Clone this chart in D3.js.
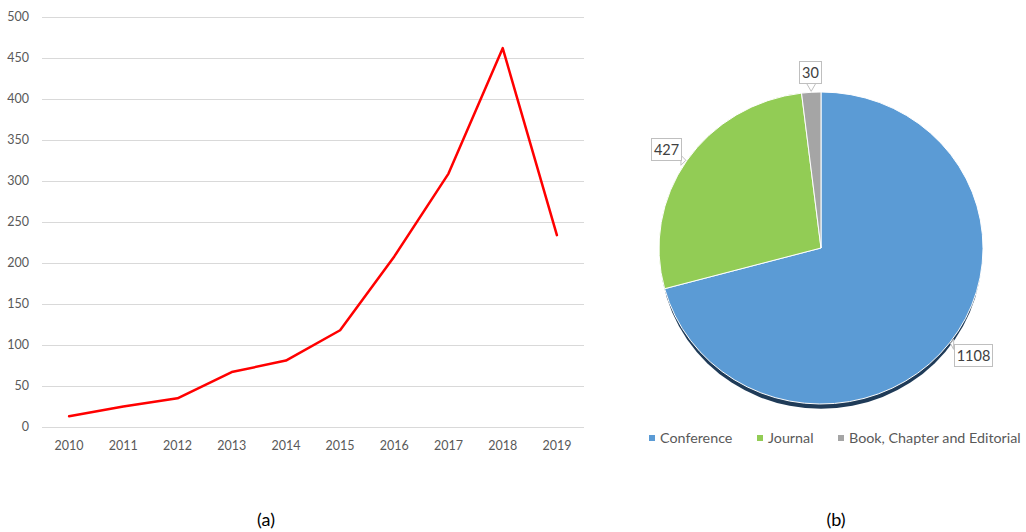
<!DOCTYPE html>
<html>
<head>
<meta charset="utf-8">
<script src="https://cdn.jsdelivr.net/npm/d3@7"></script>
<style>
  body { margin: 0; background: #fff; }
  svg { display: block; font-family: Lato, "Liberation Sans", sans-serif; }
</style>
</head>
<body>
<svg id="chart" width="1026" height="532"></svg>
<script>
// line chart (a): publications per year
var years = ["2010", "2011", "2012", "2013", "2014", "2015", "2016", "2017", "2018", "2019"];
var counts = [13, 25, 35, 67, 81, 118, 208, 309, 462, 234];
var yTicks = [0, 50, 100, 150, 200, 250, 300, 350, 400, 450, 500];

// pie chart (b): publication types
var types = ["Conference", "Journal", "Book, Chapter and Editorial"];
var typeCounts = [1108, 427, 30];
var typeColors = ["#5b9bd5", "#92cc55", "#a5a5a5"];

var svg = d3.select("#chart");

// ---- line chart ----
var x = d3.scaleBand().domain(years).range([42, 584]);
var y = d3.scaleLinear().domain([0, 500]).range([427, 17]);

var grid = svg.append("g");
grid.selectAll("line")
    .data(yTicks)
    .enter().append("line")
    .attr("x1", 42).attr("x2", 584)
    .attr("y1", function(d) { return Math.round(y(d)) + 0.5; })
    .attr("y2", function(d) { return Math.round(y(d)) + 0.5; })
    .attr("stroke", "#d9d9d9")
    .attr("stroke-width", 1);

svg.append("g").selectAll("text")
    .data(yTicks)
    .enter().append("text")
    .attr("x", 29)
    .attr("y", function(d) { return y(d); })
    .attr("dy", "0.35em")
    .attr("text-anchor", "end")
    .attr("font-size", 12.5)
    .attr("fill", "#595959")
    .text(function(d) { return d; });

svg.append("g").selectAll("text")
    .data(years)
    .enter().append("text")
    .attr("x", function(d) { return x(d) + x.bandwidth() / 2; })
    .attr("y", 450)
    .attr("text-anchor", "middle")
    .attr("font-size", 12.5)
    .attr("fill", "#595959")
    .text(function(d) { return d; });

var line = d3.line()
    .x(function(d, i) { return x(years[i]) + x.bandwidth() / 2; })
    .y(function(d) { return y(d); });

svg.append("path")
    .datum(counts)
    .attr("d", line)
    .attr("fill", "none")
    .attr("stroke", "#ff0000")
    .attr("stroke-width", 2.5)
    .attr("stroke-linejoin", "round")
    .attr("stroke-linecap", "round");

// ---- pie chart ----
var cx = 821, cy = 248, radius = 162, squash = 0.963;

var pie = d3.pie().sort(null).value(function(d) { return d; });
var arcs = pie(typeCounts);
var arc = d3.arc().innerRadius(0).outerRadius(radius);

var pg = svg.append("g")
    .attr("transform", "translate(" + cx + "," + cy + ") scale(1," + squash + ")");

// shadow under the pie
pg.append("ellipse")
    .attr("cx", 0).attr("cy", 5)
    .attr("rx", radius - 1).attr("ry", radius)
    .attr("fill", "#1f3b58");

pg.selectAll("path.slice")
    .data(arcs)
    .enter().append("path")
    .attr("class", "slice")
    .attr("d", arc)
    .attr("fill", function(d, i) { return typeColors[i]; })
    .attr("stroke", "#fff")
    .attr("stroke-width", 1);

// data labels with callouts
function edgePoint(d, r) {
    var a = (d.startAngle + d.endAngle) / 2;
    return [cx + r * Math.sin(a), cy - r * Math.cos(a) * squash];
}

var lg = svg.append("g");
arcs.forEach(function(d) {
    var a = (d.startAngle + d.endAngle) / 2;
    var dx = Math.sin(a), dy = -Math.cos(a);
    var txt = String(d.data);
    var w = txt.length * 8 + 6, h = 22;
    var anchor = edgePoint(d, 172);
    var bx = anchor[0] + dx * w / 2 - w / 2;
    var by = anchor[1] + dy * h / 2 - h / 2;
    var tip = edgePoint(d, radius + 1);
    // pointer from the box edge nearest the pie
    var px = Math.max(bx, Math.min(bx + w, tip[0]));
    var py = Math.max(by, Math.min(by + h, tip[1]));
    var onSide = (px === bx || px === bx + w) && !(py === by || py === by + h);
    var sx = onSide ? 0 : 5;
    var sy = onSide ? 5 : 0;
    if (!onSide && (px === bx || px === bx + w)) { sx = 0; sy = 5; }
    lg.append("path")
        .attr("d", "M" + (px - sx) + "," + (py - sy) +
            "L" + tip[0] + "," + tip[1] +
            "L" + (px + sx) + "," + (py + sy) + "Z")
        .attr("fill", "#fff")
        .attr("stroke", "#bfbfbf")
        .attr("stroke-width", 1);
    lg.append("rect")
        .attr("x", Math.round(bx) + 0.5).attr("y", Math.round(by) + 0.5)
        .attr("width", w).attr("height", h)
        .attr("fill", "#fff")
        .attr("stroke", "#bfbfbf")
        .attr("stroke-width", 1);
    lg.append("text")
        .attr("x", Math.round(bx) + w / 2 + 0.5)
        .attr("y", Math.round(by) + h / 2 + 0.5)
        .attr("dy", "0.36em")
        .attr("text-anchor", "middle")
        .attr("font-size", 14.5)
        .attr("fill", "#404040")
        .text(txt);
});

// legend
var legendX = [649, 757, 838];
var leg = svg.append("g").selectAll("g")
    .data(types)
    .enter().append("g")
    .attr("transform", function(d, i) { return "translate(" + legendX[i] + ",438)"; });
leg.append("rect")
    .attr("x", 0).attr("y", -3)
    .attr("width", 6).attr("height", 6)
    .attr("fill", function(d, i) { return typeColors[i]; });
leg.append("text")
    .attr("x", 11).attr("y", 0)
    .attr("dy", "0.35em")
    .attr("font-size", 14.3)
    .attr("fill", "#595959")
    .text(function(d) { return d; });

// panel captions
svg.append("text").attr("x", 266).attr("y", 526)
    .attr("text-anchor", "middle").attr("font-size", 18).attr("fill", "#000").text("(a)");
svg.append("text").attr("x", 836).attr("y", 526)
    .attr("text-anchor", "middle").attr("font-size", 18).attr("fill", "#000").text("(b)");
</script>
</body>
</html>
